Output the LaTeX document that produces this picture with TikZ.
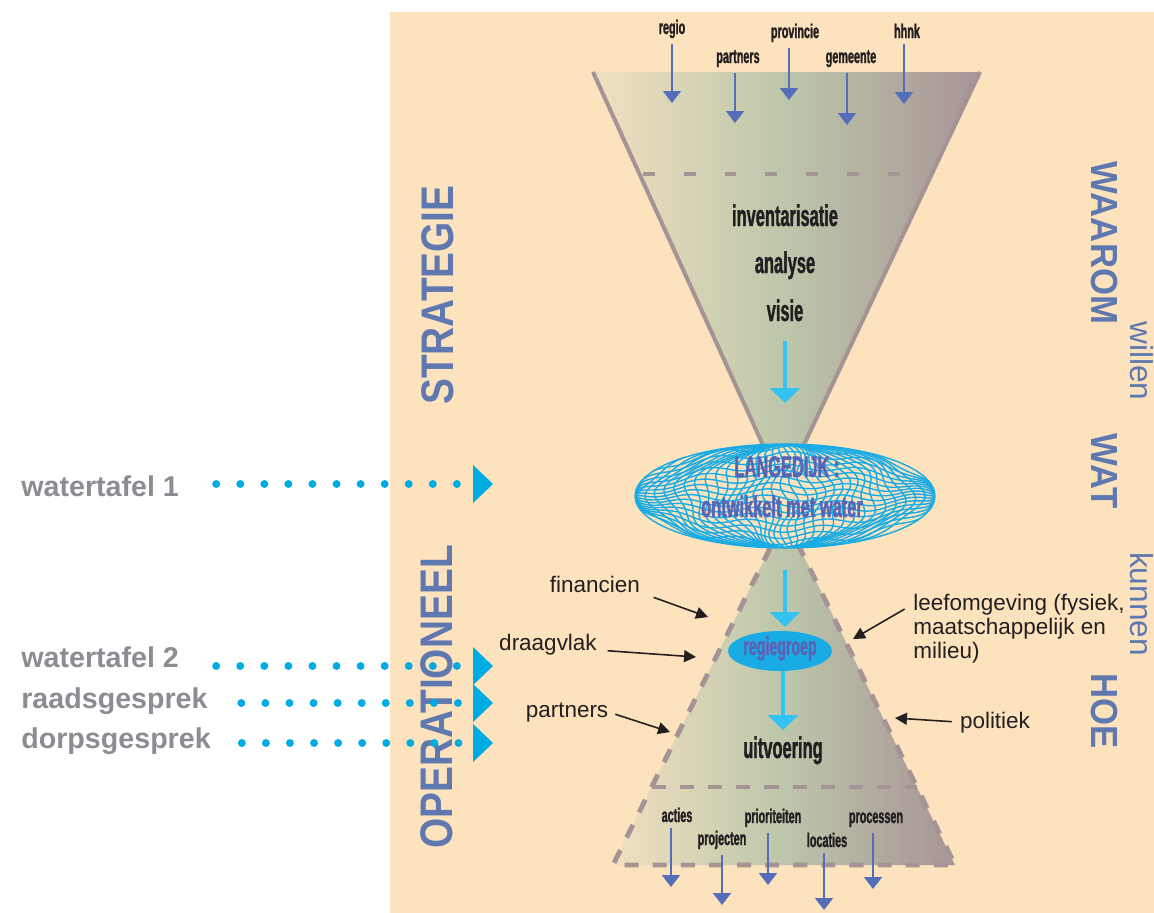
\documentclass[tikz,border=0pt]{standalone}
\usepackage{fontspec}
\setmainfont{Liberation Sans}
\newfontfamily\condfont[FakeStretch=0.55, BoldFeatures={FakeBold=1.2}]{Liberation Sans}
\newfontfamily\phasefont[FakeStretch=0.85]{Liberation Sans}
\newfontfamily\askfont[FakeStretch=0.92]{Liberation Sans}
\usetikzlibrary{arrows.meta, shapes.geometric}

\definecolor{peach}{RGB}{253,226,190}
\definecolor{conel}{RGB}{240,224,192}
\definecolor{conem}{RGB}{188,198,170}
\definecolor{coner}{RGB}{168,148,150}
\definecolor{coneline}{RGB}{165,148,150}
\definecolor{steel}{RGB}{95,120,175}
\definecolor{inblue}{RGB}{85,110,185}
\definecolor{flowcyan}{RGB}{50,195,240}
\definecolor{meshcyan}{RGB}{25,172,228}
\definecolor{dotcyan}{RGB}{0,170,226}
\definecolor{textgray}{RGB}{140,140,146}
\definecolor{langtext}{RGB}{90,100,180}
\definecolor{darktext}{RGB}{35,31,32}

\tikzset{
    conetext/.style={font=\condfont\bfseries\fontsize{17}{20}\selectfont, text=darktext, inner sep=0pt},
    smalltext/.style={font=\condfont\bfseries\fontsize{11.2}{13}\selectfont, text=darktext, inner sep=0pt},
    inarrow/.style={inblue, line width=1.1pt, -{Triangle[length=6.8pt,width=10.2pt]}},
    flowarrow/.style={flowcyan, line width=2.3pt, -{Triangle[length=8.5pt,width=17pt]}},
    sidelabel/.style={font=\bfseries\fontsize{16.3}{19}\selectfont, text=textgray, inner sep=0pt},
    dotline/.style={dotcyan, line width=4.5pt, line cap=round, dash pattern=on 0pt off 13.7pt,
        -{Triangle[length=11.3pt,width=21.5pt,line width=0pt]}},
    phaselabel/.style={font=\phasefont\bfseries\fontsize{26}{30}\selectfont, text=steel, rotate=90},
    asklabel/.style={font=\askfont\bfseries\fontsize{21.5}{25}\selectfont, text=steel, rotate=-90},
    modallabel/.style={font=\fontsize{18}{21}\selectfont, text=steel, rotate=-90},
    remark/.style={font=\fontsize{12.8}{13.8}\selectfont, text=darktext, inner sep=0pt},
    remarkarrow/.style={darktext, line width=0.9pt, -{Triangle[length=6.8pt,width=6.8pt]}},
    conedash/.style={coneline, line width=2.8pt, dash pattern=on 8pt off 8pt},
    conefill/.style={left color=conel, right color=coner, middle color=conem},
    meshline/.style={meshcyan, line width=0.8pt},
}

\begin{document}
\begin{tikzpicture}[x=0.02cm, y=-0.02cm]
    \useasboundingbox (0,0) rectangle (1154,913);
    % Background
    \fill[peach] (390,12) rectangle (1154,913);

    % Upper cone
    \coordinate (topL) at (593,72);
    \coordinate (topR) at (980,72);
    \coordinate (topApex) at (783,489);
    \shade[conefill] (topL) -- (topR) -- (topApex) -- cycle;
    \draw[coneline, line width=2.3pt] (topL) -- (topApex) -- (topR);
    \draw[coneline, line width=2.8pt, dash pattern=on 6.8pt off 16.4pt] (643,174) -- (928,174);

    % Lower cone
    \coordinate (botApex) at (785,518);
    \coordinate (botL) at (613,865);
    \coordinate (botR) at (955,865);
    \shade[conefill] (botApex) -- (botR) -- (botL) -- cycle;
    \draw[conedash] (botApex) -- (botR) -- (botL) -- cycle;
    \draw[conedash] (652,787) -- (917,787);

    % Phases
    \node[phaselabel] (strat) at (438,295) {STRATEGIE};
    \node[phaselabel] (oper) at (437,697) {OPERATIONEEL};
    \node[asklabel] (waarom) at (1104,243) {WAAROM};
    \node[modallabel] (willen) at (1142,361) {willen};
    \node[asklabel] (wat) at (1104,471) {WAT};
    \node[modallabel] (kunnen) at (1142,604) {kunnen};
    \node[asklabel] (hoe) at (1104,711) {HOE};

    % Inputs at the top
    \node[smalltext, anchor=base] (regio) at (672,34) {regio};
    \node[smalltext, anchor=base] (topPartners) at (738,63) {partners};
    \node[smalltext, anchor=base] (provincie) at (795,38) {provincie};
    \node[smalltext, anchor=base] (gemeente) at (851,63) {gemeente};
    \node[smalltext, anchor=base] (hhnk) at (907,38) {hhnk};
    \coordinate (regioTip) at (672,103);
    \coordinate (topPartnersTip) at (735,123);
    \coordinate (provincieTip) at (789,100);
    \coordinate (gemeenteTip) at (847,125);
    \coordinate (hhnkTip) at (904,104);
    \draw[inarrow, shorten <=3pt] (regio.south -| regioTip) -- (regioTip);
    \draw[inarrow, shorten <=3pt] (topPartners.south -| topPartnersTip) -- (topPartnersTip);
    \draw[inarrow, shorten <=3pt] (provincie.south -| provincieTip) -- (provincieTip);
    \draw[inarrow, shorten <=3pt] (gemeente.south -| gemeenteTip) -- (gemeenteTip);
    \draw[inarrow, shorten <=3pt] (hhnk.south -| hhnkTip) -- (hhnkTip);

    % Strategy steps
    \node[conetext, anchor=base] (inv) at (785,226) {inventarisatie};
    \node[conetext, anchor=base] (ana) at (785,273) {analyse};
    \node[conetext, anchor=base] (vis) at (785,321) {visie};

    % Central ellipse
    \node[ellipse, draw=meshcyan, line width=0.8pt, fill=peach, minimum width=6cm, minimum height=2.08cm, inner sep=0pt] (lang) at (785,496) {};
    \begin{scope}
        \clip (785,496) ellipse [x radius=150, y radius=52];
        \foreach \t in {-0.92,-0.8,...,0.92}
            \draw[meshline] plot[domain=-1:1, samples=50, smooth] ({785+150*\x}, {496+52*\t*sqrt(max(0,1-\x*\x))+3*sin(720*\x+150*\t)});
        \foreach \s in {-0.96,-0.9,...,0.96}
            \draw[meshline] plot[domain=-1:1, samples=30, smooth] ({785+150*\s*sqrt(max(0,1-\x*\x))+5*sin(400*\x+500*\s)}, {496+52*\x});
    \end{scope}
    \node[conetext, text=langtext, anchor=base] (langTitle) at (787,477) {LANGEDIJK :};
    \node[conetext, text=langtext, anchor=base] (langSub) at (782,517) {ontwikkelt met water};

    % Regiegroep and execution
    \node[ellipse, fill=meshcyan, minimum width=2.08cm, minimum height=0.8cm, inner sep=0pt] (regie) at (780,651) {};
    \node[conetext, text=langtext, font=\condfont\bfseries\fontsize{14.7}{17}\selectfont, anchor=base] (regieText) at (780,655) {regiegroep};
    \node[conetext, anchor=base] (uitv) at (783,758) {uitvoering};

    % Flow
    \coordinate (flowA) at (785,403);
    \coordinate (flowB) at (785,627);
    \coordinate (flowC) at (783,730);
    \draw[flowarrow, shorten <=11pt] (vis.south) -- (flowA);
    \draw[flowarrow, shorten <=12pt] (lang.south) -- (flowB);
    \draw[flowarrow] (regie.south -| flowC) -- (flowC);

    % Outputs at the bottom
    \node[smalltext, anchor=base] (acties) at (677,822) {acties};
    \node[smalltext, anchor=base] (projecten) at (722,845) {projecten};
    \node[smalltext, anchor=base] (prior) at (773,823) {prioriteiten};
    \node[smalltext, anchor=base] (locaties) at (827,847) {locaties};
    \node[smalltext, anchor=base] (processen) at (876,823) {processen};
    \coordinate (actiesTip) at (671,887);
    \coordinate (projectenTip) at (722,905);
    \coordinate (priorTip) at (768,885);
    \coordinate (locatiesTip) at (824,910);
    \coordinate (processenTip) at (873,889);
    \draw[inarrow, shorten <=3pt] (acties.south -| actiesTip) -- (actiesTip);
    \draw[inarrow, shorten <=3pt] (projecten.south -| projectenTip) -- (projectenTip);
    \draw[inarrow, shorten <=3pt] (prior.south -| priorTip) -- (priorTip);
    \draw[inarrow, shorten <=3pt] (locaties.south -| locatiesTip) -- (locatiesTip);
    \draw[inarrow, shorten <=3pt] (processen.south -| processenTip) -- (processenTip);

    % Conditions around the lower cone
    \node[remark, anchor=base] (fin) at (595,592) {financien};
    \node[remark, anchor=base] (drg) at (548,650) {draagvlak};
    \node[remark, anchor=base] (sidePartners) at (567,717) {partners};
    \node[remark, anchor=base west] (leefA) at (913,610) {leefomgeving (fysiek,};
    \node[remark, anchor=base west] (leefB) at (913,634) {maatschappelijk en};
    \node[remark, anchor=base west] (leefC) at (913,658) {milieu)};
    \node[remark, anchor=base] (pol) at (995,728) {politiek};
    \coordinate (finTip) at (708,617);
    \coordinate (drgTip) at (696,657);
    \coordinate (sidePartnersTip) at (670,732);
    \coordinate (leefTip) at (853,639);
    \coordinate (polTip) at (895,718);
    \draw[remarkarrow, shorten <=8pt] (fin.south east) -- (finTip);
    \draw[remarkarrow, shorten <=6pt] (drg.base east) -- (drgTip);
    \draw[remarkarrow, shorten <=4pt] (sidePartners.east) -- (sidePartnersTip);
    \draw[remarkarrow, shorten <=5.5pt] (leefA.west) -- (leefTip);
    \draw[remarkarrow, shorten <=4.5pt] (pol.west) -- (polTip);

    % Meetings
    \node[sidelabel, anchor=base west] (wt1) at (21,496) {watertafel 1};
    \node[sidelabel, anchor=base west] (wt2) at (21,667) {watertafel 2};
    \node[sidelabel, anchor=base west] (raad) at (21,708) {raadsgesprek};
    \node[sidelabel, anchor=base west] (dorp) at (21,748) {dorpsgesprek};
    \coordinate (wt1Tip) at (493,484);
    \coordinate (wt2Tip) at (493,666);
    \coordinate (raadTip) at (493,703);
    \coordinate (dorpTip) at (493,743);
    \draw[dotline, shorten <=21pt] (wt1.east |- wt1Tip) -- (wt1Tip);
    \draw[dotline, shorten <=21pt] (wt2.east |- wt2Tip) -- (wt2Tip);
    \draw[dotline, shorten <=19pt] (raad.east |- raadTip) -- (raadTip);
    \draw[dotline, shorten <=17.5pt] (dorp.east |- dorpTip) -- (dorpTip);
\end{tikzpicture}
\end{document}
